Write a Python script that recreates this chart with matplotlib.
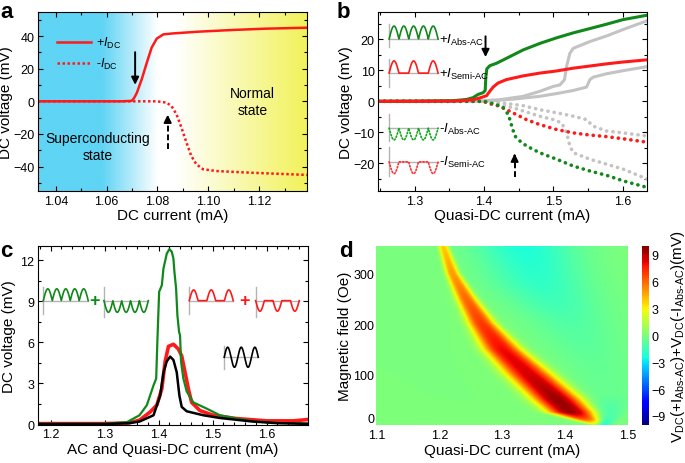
import numpy as np
import matplotlib
matplotlib.use('Agg')
from matplotlib import pyplot as plt
from matplotlib.colors import LinearSegmentedColormap
from matplotlib.ticker import AutoMinorLocator, MultipleLocator

plt.rcParams['font.family'] = ['Liberation Sans', 'DejaVu Sans']
plt.rcParams['mathtext.fontset'] = 'custom'
plt.rcParams['mathtext.rm'] = 'Liberation Sans'
plt.rcParams['mathtext.it'] = 'Liberation Sans:italic'
plt.rcParams['mathtext.bf'] = 'Liberation Sans:bold'
plt.rcParams['axes.linewidth'] = 0.8

# ---- panel a : DC sweep ----
a_cur_pos = [1.033, 1.066, 1.0699, 1.0708, 1.0719, 1.0738, 1.0758, 1.0777, 1.0797, 1.0823, 1.0862, 1.0966, 1.1096, 1.1226, 1.1389]
a_v_pos = [0, 0, 0.3, 2.0, 5.3, 13.5, 23.7, 32.9, 38.4, 41.0, 41.6, 42.7, 43.7, 44.5, 45.1]
a_cur_neg = [1.033, 1.0797, 1.0836, 1.0855, 1.0875, 1.0894, 1.0914, 1.0933, 1.0953, 1.0979, 1.1031, 1.1161, 1.1389]
a_v_neg = [0, 0, -0.8, -2.9, -8, -16, -25.3, -33.5, -38.6, -41.6, -42.7, -43.7, -45.1]
a_bg_stops = [1.033, 1.058, 1.080, 1.087, 1.1389]
a_bg_colors = ['#5fd4f4', '#5fd4f4', '#ffffff', '#ffffff', '#f2f25a']

# ---- panel b : quasi-DC sweeps ----
b_cur_green = [1.247, 1.30, 1.3554, 1.3746, 1.3842, 1.391, 1.3986, 1.4015, 1.4025, 1.4039, 1.4082, 1.418, 1.4323, 1.4563, 1.4804, 1.5045, 1.5285, 1.5526, 1.5766, 1.6007, 1.635]
b_v_green = [0.0, 0.05, 0.2, 0.6, 1.2, 2.2, 2.8, 3.5, 8.0, 10.5, 11.5, 12.3, 13.9, 16.6, 18.7, 20.5, 22.1, 23.5, 24.9, 26.4, 27.8]
b_cur_red = [1.247, 1.30, 1.36, 1.3842, 1.3938, 1.4034, 1.408, 1.413, 1.420, 1.432, 1.456, 1.480, 1.5045, 1.5285, 1.5526, 1.5766, 1.6007, 1.635]
b_v_red = [0.0, 0.0, 0.1, 0.5, 1.1, 1.8, 3.2, 4.6, 5.9, 7.0, 8.2, 9.1, 9.8, 10.7, 11.4, 12.1, 12.7, 13.4]
b_cur_gray1 = [1.247, 1.38, 1.422, 1.456, 1.480, 1.4997, 1.5093, 1.516, 1.5189, 1.5237, 1.5285, 1.5526, 1.5766, 1.6007, 1.635]
b_v_gray1 = [0.0, 0.0, 0.5, 1.6, 3.2, 4.8, 5.3, 7.0, 11.2, 15.5, 17.1, 19.3, 21.1, 23.2, 26.0]
b_cur_gray2 = [1.247, 1.40, 1.442, 1.480, 1.5045, 1.5285, 1.5478, 1.5526, 1.5574, 1.5766, 1.6007, 1.635]
b_v_gray2 = [0.0, 0.0, 0.7, 1.6, 2.5, 3.5, 4.6, 7.0, 7.8, 8.9, 9.9, 11.2]
b_cur_red_neg = [1.247, 1.40, 1.4034, 1.4227, 1.4323, 1.4467, 1.461, 1.480, 1.5045, 1.5285, 1.5526, 1.5766, 1.6007, 1.635]
b_v_red_neg = [0.0, 0.0, -0.5, -1.6, -2.7, -4.3, -5.9, -7.5, -9.1, -10.2, -10.9, -11.4, -12.1, -13.2]
b_cur_green_neg = [1.247, 1.40, 1.418, 1.4275, 1.435, 1.4385, 1.4414, 1.4443, 1.4515, 1.461, 1.480, 1.5045, 1.5285, 1.5526, 1.5766, 1.6007, 1.635]
b_v_green_neg = [0.0, 0.0, -1.1, -2.1, -4.3, -7.0, -9.1, -11.2, -12.8, -14.4, -16.6, -18.7, -20.9, -22.5, -23.9, -25.7, -27.8]
b_cur_gray1_neg = [1.247, 1.40, 1.432, 1.456, 1.480, 1.5045, 1.5285, 1.5478, 1.557, 1.5766, 1.6007, 1.635]
b_v_gray1_neg = [0.0, 0.0, -0.7, -1.4, -2.7, -3.7, -4.8, -5.9, -8.0, -9.6, -10.2, -11.2]
b_cur_gray2_neg = [1.247, 1.40, 1.442, 1.480, 1.4997, 1.512, 1.519, 1.5237, 1.5285, 1.5526, 1.5766, 1.6007, 1.635]
b_v_gray2_neg = [0.0, 0.0, -2.1, -4.8, -5.9, -7.0, -10.2, -14.4, -16.6, -18.7, -20.3, -21.9, -25.1]

# ---- panel c : rectified voltage ----
c_cur_green = [1.176, 1.30, 1.341, 1.3645, 1.378, 1.3905, 1.3954, 1.3978, 1.4009, 1.4059, 1.4089, 1.4151, 1.4199, 1.4243, 1.4273, 1.4292, 1.4323, 1.4347, 1.4378, 1.4396, 1.4415, 1.4458, 1.452, 1.4642, 1.4888, 1.5134, 1.544, 1.58, 1.62, 1.677]
c_v_green = [0.03, 0.03, 0.15, 0.66, 1.39, 2.85, 3.34, 6.27, 9.69, 10.17, 11.39, 12.49, 12.81, 12.62, 12.13, 11.15, 9.93, 7.98, 6.76, 6.51, 4.57, 3.34, 2.4, 1.6, 1.15, 0.66, 0.42, 0.2, 0.1, 0.05]
c_cur_red = [1.176, 1.30, 1.345, 1.3645, 1.3843, 1.3966, 1.4059, 1.412, 1.4182, 1.4274, 1.4366, 1.4427, 1.4489, 1.455, 1.4611, 1.4765, 1.501, 1.544, 1.60, 1.65, 1.677]
c_v_red = [0.05, 0.05, 0.1, 0.3, 0.9, 1.4, 2.6, 4.6, 5.7, 5.85, 5.5, 5.0, 3.8, 2.6, 1.6, 1.0, 0.66, 0.42, 0.25, 0.25, 0.35]
c_cur_black = [1.176, 1.30, 1.345, 1.3645, 1.3905, 1.4028, 1.409, 1.415, 1.4213, 1.4274, 1.4335, 1.4384, 1.4427, 1.452, 1.4826, 1.5134, 1.574, 1.62, 1.677]
c_v_black = [0.02, 0.02, 0.08, 0.2, 0.66, 2.1, 3.8, 4.6, 4.95, 4.7, 3.8, 2.1, 1.27, 0.95, 0.66, 0.46, 0.2, 0.08, 0.03]

# ---- panel d : field map, read along the ridge ----
ridge_field = [0, 10, 25, 50, 100, 150, 200, 250, 300, 355]
ridge_cur = [1.450, 1.435, 1.410, 1.388, 1.343, 1.300, 1.268, 1.243, 1.221, 1.206]
ridge_amp = [2.0, 6.0, 9.5, 9.5, 8.5, 8.0, 7.0, 6.0, 5.0, 4.0]
ridge_wid = [0.010, 0.022, 0.036, 0.038, 0.036, 0.030, 0.022, 0.016, 0.011, 0.008]
dip_field = [0, 15, 60, 120, 200, 280, 355]
dip_cur = [1.46, 1.465, 1.47, 1.45, 1.41, 1.36, 1.335]
dip_amp = [-2.5, -1.5, -0.5, -0.6, -1.0, -1.8, -2.3]
dip_wid = [0.012, 0.02, 0.05, 0.06, 0.07, 0.08, 0.08]

LBL = 11
TCK = 9


def style(ax):
    ax.tick_params(direction='in', which='both', top=True, right=True, labelsize=TCK, width=0.8, pad=2.5)
    ax.tick_params(which='major', length=3.5)
    ax.tick_params(which='minor', length=2)
    ax.xaxis.set_minor_locator(AutoMinorLocator(2))
    ax.yaxis.set_minor_locator(AutoMinorLocator(2))


def icon(ax, x0, x1, y0, amp, shape, color, bar, ls='-', periods=2.5):
    t = np.linspace(0, periods, 500)
    s = np.sin(2 * np.pi * t)
    if shape == 'abs':
        w = np.abs(s)
    elif shape == 'half':
        w = np.clip(s, 0, None)
    else:
        w = s
    xs = x0 + (x1 - x0) * t / periods
    tr = ax.transAxes
    ax.plot([x0, x1], [y0, y0], color='#b4b4b4', lw=1.0, transform=tr, zorder=4)
    ax.plot([x0, x0], bar, color='#b4b4b4', lw=1.0, transform=tr, zorder=4)
    ax.plot(xs, y0 + amp * w, color=color, lw=1.2, ls=ls, transform=tr, zorder=5,
            dash_capstyle='round')


def arrow(ax, x, y_tail, y_head, dashed=False):
    if dashed:
        ax.plot([x, x], [y_tail, y_head - 0.3 * (y_head - y_tail)], color='k', lw=1.4, ls=(0, (3, 1.5)))
        ax.annotate('', xy=(x, y_head), xytext=(x, y_head - 0.35 * (y_head - y_tail)),
                    arrowprops=dict(arrowstyle='-|>', color='k', lw=1.4, mutation_scale=11))
    else:
        ax.annotate('', xy=(x, y_head), xytext=(x, y_tail),
                    arrowprops=dict(arrowstyle='-|>', color='k', lw=1.4, mutation_scale=11))


fig = plt.figure(figsize=(6.85, 4.64), dpi=100)

# ---------------- a ----------------
ax = fig.add_axes([0.0555, 0.586, 0.393, 0.387])
xlo, xhi = 1.033, 1.1389
pos = [(v - xlo) / (xhi - xlo) for v in a_bg_stops]
cmap_bg = LinearSegmentedColormap.from_list('bg', list(zip(pos, a_bg_colors)))
ax.imshow(np.linspace(0, 1, 400)[None, :], extent=[xlo, xhi, -55, 55], aspect='auto',
          cmap=cmap_bg, zorder=0, interpolation='bilinear')
ax.plot(a_cur_pos, a_v_pos, color='#ff1a1a', lw=1.8, label=r'+$I_{\mathrm{DC}}$')
ax.plot(a_cur_neg, a_v_neg, color='#ff1a1a', lw=1.8, ls=(0, (1, 1)), label=r'-$I_{\mathrm{DC}}$')
ax.set_xlim(xlo, xhi)
ax.set_ylim(-55, 55)
ax.xaxis.set_major_locator(MultipleLocator(0.02))
ax.xaxis.set_major_formatter(matplotlib.ticker.FormatStrFormatter('%.2f'))
ax.yaxis.set_major_locator(MultipleLocator(20))
style(ax)
ax.set_xlabel('DC current (mA)', fontsize=LBL, labelpad=1)
ax.set_ylabel('DC voltage (mV)', fontsize=LBL, labelpad=0)
ax.legend(loc='upper left', bbox_to_anchor=(0.03, 0.93), frameon=False, fontsize=9,
          handlelength=2.7, labelspacing=0.45, handletextpad=0.4)
arrow(ax, 1.0712, 31.8, 8.4)
arrow(ax, 1.0840, -29.4, -6.5, dashed=True)
ax.text(1.0563, -27.5, 'Superconducting\nstate', fontsize=10, ha='center', va='center', linespacing=1.3)
ax.text(1.1175, 0, 'Normal\nstate', fontsize=10, ha='center', va='center', linespacing=1.3)

# ---------------- b ----------------
ax = fig.add_axes([0.552, 0.586, 0.3925, 0.387])
gray = '#c3c3c3'
dots = (0, (0.05, 1.7))
ax.plot(b_cur_gray1, b_v_gray1, color=gray, lw=2.2)
ax.plot(b_cur_gray2, b_v_gray2, color=gray, lw=2.2)
ax.plot(b_cur_gray1_neg, b_v_gray1_neg, color=gray, lw=2.6, ls=dots, dash_capstyle='round')
ax.plot(b_cur_gray2_neg, b_v_gray2_neg, color=gray, lw=2.6, ls=dots, dash_capstyle='round')
ax.plot(b_cur_red_neg, b_v_red_neg, color='#ff1a1a', lw=2.6, ls=dots, dash_capstyle='round')
ax.plot(b_cur_green_neg, b_v_green_neg, color='#11881a', lw=2.6, ls=dots, dash_capstyle='round')
ax.plot(b_cur_green, b_v_green, color='#11881a', lw=2.2)
ax.plot(b_cur_red, b_v_red, color='#ff1a1a', lw=2.2)
ax.set_xlim(1.247, 1.635)
ax.set_ylim(-29, 29)
ax.xaxis.set_major_locator(MultipleLocator(0.1))
ax.yaxis.set_major_locator(MultipleLocator(10))
style(ax)
ax.set_xlabel('Quasi-DC current (mA)', fontsize=LBL, labelpad=1)
ax.set_ylabel('DC voltage (mV)', fontsize=LBL, labelpad=0)
arrow(ax, 1.402, 21.9, 13.4)
arrow(ax, 1.444, -24.6, -16.0, dashed=True)

icon(ax, 0.041, 0.223, 0.847, 0.072, 'abs', '#11881a', (0.800, 0.930))
icon(ax, 0.041, 0.223, 0.657, 0.068, 'half', '#ff1a1a', (0.578, 0.735))
icon(ax, 0.041, 0.223, 0.351, -0.066, 'abs', '#11aa1a', (0.280, 0.429), ls=(0, (0.8, 1.2)))
icon(ax, 0.041, 0.223, 0.163, -0.066, 'half', '#ff3030', (0.082, 0.2435), ls=(0, (0.8, 1.2)))
for yy, lab in [(0.847, r'+$I_{\text{Abs-AC}}$'), (0.657, r'+$I_{\text{Semi-AC}}$'),
                (0.351, r'-$I_{\text{Abs-AC}}$'), (0.163, r'-$I_{\text{Semi-AC}}$')]:
    ax.text(0.226, yy, lab, transform=ax.transAxes, fontsize=9.5, va='center', ha='left')

# ---------------- c ----------------
ax = fig.add_axes([0.0555, 0.082, 0.394, 0.386])
ax.plot(c_cur_red, c_v_red, color='#ff1a1a', lw=2.6)
ax.plot(c_cur_green, c_v_green, color='#11881a', lw=1.6)
ax.plot(c_cur_black, c_v_black, color='k', lw=1.8)
ax.set_xlim(1.1765, 1.6765)
ax.set_ylim(-0.05, 13.05)
ax.xaxis.set_major_locator(MultipleLocator(0.1))
ax.yaxis.set_major_locator(MultipleLocator(3))
style(ax)
ax.xaxis.set_minor_locator(AutoMinorLocator(5))
ax.set_xlabel('AC and Quasi-DC current (mA)', fontsize=LBL, labelpad=1)
ax.set_ylabel('DC voltage (mV)', fontsize=LBL, labelpad=3)
icon(ax, 0.0196, 0.186, 0.694, 0.066, 'abs', '#11881a', (0.620, 0.771))
ax.text(0.211, 0.694, '+', transform=ax.transAxes, color='#11881a', fontsize=13,
        fontweight='bold', ha='center', va='center')
icon(ax, 0.2444, 0.4085, 0.694, -0.065, 'abs', '#11881a', (0.6034, 0.771))
icon(ax, 0.5604, 0.7233, 0.694, 0.060, 'half', '#ff1a1a', (0.620, 0.771))
ax.text(0.764, 0.694, '+', transform=ax.transAxes, color='#ff1a1a', fontsize=13,
        fontweight='bold', ha='center', va='center')
icon(ax, 0.8063, 0.9678, 0.694, -0.059, 'half', '#ff1a1a', (0.6034, 0.771))
icon(ax, 0.690, 0.816, 0.378, 0.056, 'sine', 'k', (0.313, 0.443))

# ---------------- d ----------------
ax = fig.add_axes([0.5495, 0.082, 0.367, 0.386])
cur = np.linspace(1.1, 1.5, 500)
fld = np.linspace(0, 355, 400)
C, F = np.meshgrid(cur, fld)
rc = np.interp(fld, ridge_field, ridge_cur)[:, None]
ra = np.interp(fld, ridge_field, ridge_amp)[:, None]
rw = np.interp(fld, ridge_field, ridge_wid)[:, None]
dc = np.interp(fld, dip_field, dip_cur)[:, None]
da = np.interp(fld, dip_field, dip_amp)[:, None]
dw = np.interp(fld, dip_field, dip_wid)[:, None]
Z = ra * np.exp(-np.abs((C - rc) / rw) ** 2.6) + da * np.exp(-((C - dc) / dw) ** 2)
im = ax.imshow(Z, extent=[1.1, 1.5, 0, 355], origin='lower', aspect='auto', cmap='jet',
               vmin=-10, vmax=10, interpolation='bilinear')
for s in ax.spines.values():
    s.set_visible(False)
ax.set_xticks([1.1, 1.2, 1.3, 1.4, 1.5])
ax.set_yticks([0, 100, 200, 300])
ax.tick_params(axis='y', length=0, labelsize=TCK, pad=1.5)
ax.tick_params(axis='x', length=0, labelsize=TCK, pad=3)
ax.get_yticklabels()[0].set_va('bottom')
ax.set_xlabel('Quasi-DC current (mA)', fontsize=LBL, labelpad=1)
ax.set_ylabel('Magnetic field (Oe)', fontsize=LBL, labelpad=1)

cax = fig.add_axes([0.9365, 0.082, 0.0105, 0.386])
cb = fig.colorbar(im, cax=cax, ticks=[-9, -6, -3, 0, 3, 6, 9])
cb.outline.set_visible(False)
cb.ax.tick_params(length=0, labelsize=TCK, pad=2)
cb.set_label(r'V$_{\mathrm{DC}}$(+I$_{\text{Abs-AC}}$)+V$_{\mathrm{DC}}$(-I$_{\text{Abs-AC}}$)(mV)',
             fontsize=LBL, labelpad=2)

for x, y, l in [(0.0, 0.962, 'a'), (0.492, 0.962, 'b'), (0.0, 0.447, 'c'), (0.495, 0.447, 'd')]:
    fig.text(x, y, l, fontsize=16, fontweight='bold', va='baseline', ha='left')

fig.savefig('out.png', dpi=100)
